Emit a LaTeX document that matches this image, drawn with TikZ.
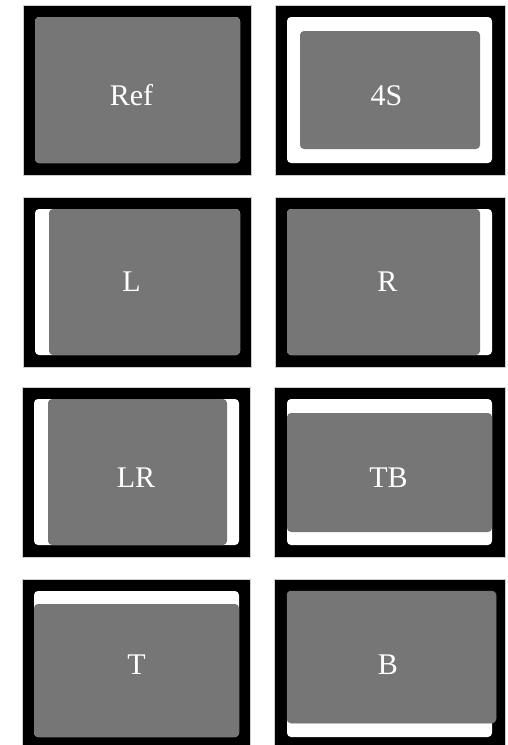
\documentclass[tikz,border=0pt]{standalone}
\usepackage{fontspec}
\setmainfont{Liberation Serif}
\definecolor{imggray}{HTML}{767676}

\begin{document}
\begin{tikzpicture}[x=1pt,y=-1pt,
   frame/.style={fill=black,draw=gray!40,line width=0.6pt},
   scr/.style={fill=white,rounded corners=4pt},
   img/.style={fill=imggray,rounded corners=4pt},
   lbl/.style={anchor=base,text=white,inner sep=0pt,
     font=\fontsize{30}{30}\selectfont}]
  \useasboundingbox (0,0) rectangle (508,745);
  % row 1
  \filldraw[frame] (23,5) rectangle (251,175);
  \fill[scr] (35,17) rectangle (240,163);
  \fill[img] (35,17) rectangle (240,163);
  \node[lbl] (tRef) at (131.5,105) {Ref};
  \filldraw[frame] (275,5) rectangle (505,175);
  \fill[scr] (287,17) rectangle (492,163);
  \fill[img] (300,31) rectangle (480,149);
  \node[lbl] (t4S) at (386.5,105) {4S};
  % row 2
  \filldraw[frame] (23,197) rectangle (251,367);
  \fill[scr] (35,209) rectangle (240,355);
  \fill[img] (49,209) rectangle (240,355);
  \node[lbl] (tL) at (131.5,291) {L};
  \filldraw[frame] (275,197) rectangle (505,367);
  \fill[scr] (287,209) rectangle (492,355);
  \fill[img] (287,209) rectangle (480,355);
  \node[lbl] (tR) at (387.5,291) {R};
  % row 3
  \filldraw[frame] (22,387) rectangle (250,557);
  \fill[scr] (34,399) rectangle (239,545);
  \fill[img] (48,399) rectangle (227,545);
  \node[lbl] (tLR) at (136,487.5) {LR};
  \filldraw[frame] (274,387) rectangle (505,557);
  \fill[scr] (287,399) rectangle (492,545);
  \fill[img] (287,413) rectangle (492,532);
  \node[lbl] (tTB) at (388.5,487.5) {TB};
  % row 4
  \filldraw[frame] (22,579) rectangle (250,749);
  \fill[scr] (34,591) rectangle (239,737);
  \fill[img] (34,604) rectangle (239,737);
  \node[lbl] (tT) at (136.5,674) {T};
  \filldraw[frame] (274,579) rectangle (505,749);
  \fill[scr] (287,591) rectangle (492,737);
  \filldraw[img,draw=black!55,line width=0.5pt] (287,591) rectangle (496,723);
  \node[lbl] (tB) at (388,674) {B};
\end{tikzpicture}
\end{document}
